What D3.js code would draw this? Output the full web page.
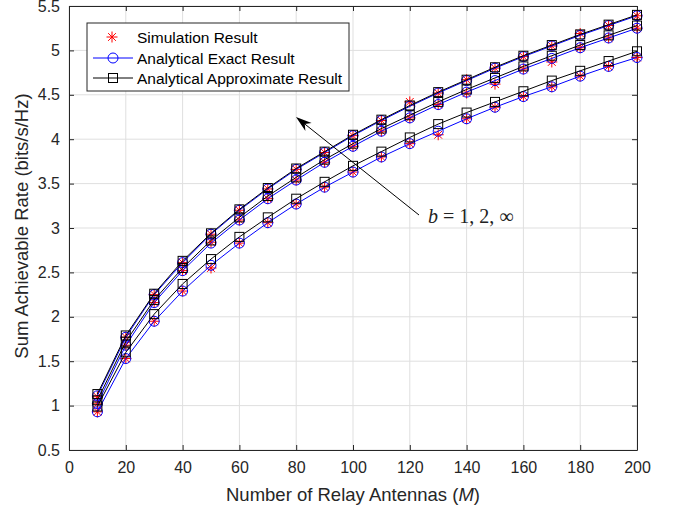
<!DOCTYPE html>
<html><head><meta charset="utf-8">
<script src="https://cdn.jsdelivr.net/npm/d3@7"></script>
<style>body{margin:0;background:#fff}svg{display:block}</style>
</head><body>
<script>
const M = [10,20,30,40,50,60,70,80,90,100,110,120,130,140,150,160,170,180,190,200];
const approxInf = [1.13,1.79,2.26,2.63,2.94,3.21,3.45,3.67,3.86,4.05,4.22,4.38,4.53,4.67,4.81,4.94,5.06,5.18,5.29,5.40];
const exactInf  = [1.11,1.77,2.25,2.61,2.93,3.20,3.44,3.66,3.85,4.04,4.21,4.37,4.52,4.66,4.80,4.93,5.05,5.17,5.28,5.39];
const approxB2  = [1.06,1.72,2.19,2.55,2.86,3.12,3.36,3.57,3.77,3.95,4.12,4.27,4.42,4.56,4.69,4.82,4.94,5.06,5.17,5.28];
const exactB2   = [1.02,1.68,2.16,2.52,2.83,3.09,3.33,3.54,3.74,3.92,4.09,4.24,4.39,4.53,4.66,4.79,4.91,5.03,5.14,5.25];
const approxB1  = [0.99,1.60,2.03,2.37,2.65,2.90,3.12,3.33,3.52,3.70,3.86,4.02,4.17,4.30,4.42,4.54,4.66,4.77,4.88,4.99];
const exactB1   = [0.93,1.53,1.95,2.29,2.58,2.83,3.06,3.27,3.46,3.63,3.80,3.95,4.09,4.23,4.36,4.48,4.59,4.71,4.82,4.92];
const simInf    = [1.10,1.77,2.25,2.61,2.93,3.20,3.44,3.66,3.85,4.04,4.21,4.42,4.52,4.67,4.80,4.93,5.05,5.19,5.28,5.39];
const simB2     = [1.02,1.68,2.16,2.52,2.84,3.09,3.33,3.54,3.74,3.92,4.09,4.24,4.39,4.52,4.62,4.79,4.87,5.03,5.14,5.25];
const simB1     = [0.93,1.53,1.95,2.29,2.55,2.83,3.06,3.27,3.46,3.63,3.80,3.95,4.05,4.23,4.36,4.48,4.59,4.71,4.82,4.92];
const xTicks = [0,20,40,60,80,100,120,140,160,180,200];
const yTicks = [0.5,1,1.5,2,2.5,3,3.5,4,4.5,5,5.5];
const legendLabels = ["Simulation Result","Analytical Exact Result","Analytical Approximate Result"];

const W=673,H=512, L=69,R=637,T=6,B=450;
const SANS="Liberation Sans, Arial, sans-serif";
const svg=d3.select("body").append("svg").attr("width",W).attr("height",H).style("font-family",SANS);
const x=d3.scaleLinear().domain([0,200]).range([L,R]);
const y=d3.scaleLinear().domain([0.5,5.5]).range([B,T]);
const axc="#262626";

// grid
const g=svg.append("g");
g.selectAll(".gx").data(xTicks).enter().append("line").attr("x1",d=>x(d)).attr("x2",d=>x(d)).attr("y1",T).attr("y2",B).attr("stroke","#dfdfdf").attr("stroke-width",1);
g.selectAll(".gy").data(yTicks).enter().append("line").attr("y1",d=>y(d)).attr("y2",d=>y(d)).attr("x1",L).attr("x2",R).attr("stroke","#dfdfdf").attr("stroke-width",1);

// axes
const tl=-5;
function styleAx(s){s.select(".domain").attr("stroke",axc);s.selectAll("line").attr("stroke",axc);s.selectAll("text").attr("fill",axc).style("font-size","16px").style("font-family",SANS);}
svg.append("g").attr("transform",`translate(0,${B})`).call(d3.axisBottom(x).tickValues(xTicks).tickSize(tl).tickSizeOuter(0).tickPadding(12)).call(styleAx);
svg.append("g").attr("transform",`translate(0,${T})`).call(d3.axisTop(x).tickValues(xTicks).tickSize(tl).tickSizeOuter(0).tickFormat("")).call(styleAx);
svg.append("g").attr("transform",`translate(${L},0)`).call(d3.axisLeft(y).tickValues(yTicks).tickSize(tl).tickSizeOuter(0).tickPadding(9).tickFormat(d=>String(d))).call(styleAx);
svg.append("g").attr("transform",`translate(${R},0)`).call(d3.axisRight(y).tickValues(yTicks).tickSize(tl).tickSizeOuter(0).tickFormat("")).call(styleAx);

// data
const plot=svg.append("g");
const line=d3.line().x((d,i)=>x(M[i])).y(d=>y(d));
function circles(arr){
  plot.append("path").datum(arr).attr("d",line).attr("fill","none").attr("stroke","#0000ff").attr("stroke-width",1);
  plot.selectAll(null).data(arr).enter().append("circle").attr("cx",(d,i)=>x(M[i])).attr("cy",d=>y(d)).attr("r",5).attr("fill","none").attr("stroke","#0000ff").attr("stroke-width",1);
}
function squares(arr){
  plot.append("path").datum(arr).attr("d",line).attr("fill","none").attr("stroke","#000").attr("stroke-width",1);
  plot.selectAll(null).data(arr).enter().append("rect").attr("x",(d,i)=>x(M[i])-4.5).attr("y",d=>y(d)-4.5).attr("width",9).attr("height",9).attr("fill","none").attr("stroke","#000").attr("stroke-width",1);
}
const starPath=(()=>{let p="";const r=5.5;for(let k=0;k<4;k++){const a=k*Math.PI/4;const dx=r*Math.cos(a),dy=r*Math.sin(a);p+=`M${-dx},${-dy}L${dx},${dy}`;}return p;})();
function stars(arr){
  plot.selectAll(null).data(arr).enter().append("path").attr("transform",(d,i)=>`translate(${x(M[i])},${y(d)})`).attr("d",starPath).attr("stroke","#ff0000").attr("stroke-width",1).attr("fill","none");
}
[simB1,simB2,simInf].forEach(stars);
[exactB1,exactB2,exactInf].forEach(circles);
[approxB1,approxB2,approxInf].forEach(squares);

// annotation arrow
const ax1=419,ay1=215,ax2=296,ay2=117;
svg.append("line").attr("x1",ax1).attr("y1",ay1).attr("x2",ax2+8).attr("y2",ay2+6.4).attr("stroke","#000").attr("stroke-width",1);
(function(){const ang=Math.atan2(ay2-ay1,ax2-ax1);const len=16,w=5;
 const bx=ax2-len*Math.cos(ang),by=ay2-len*Math.sin(ang);
 const px=-Math.sin(ang)*w,py=Math.cos(ang)*w;
 const ix=ax2-len*0.7*Math.cos(ang),iy=ay2-len*0.7*Math.sin(ang);
 svg.append("path").attr("d",`M${ax2},${ay2}L${bx+px},${by+py}L${ix},${iy}L${bx-px},${by-py}Z`).attr("fill","#000");})();
const ann=svg.append("text").attr("x",428).attr("y",223).style("font-family","Liberation Serif, DejaVu Serif, serif").style("font-size","20px").attr("fill","#222");
ann.append("tspan").style("font-style","italic").text("b");
ann.append("tspan").text(" = 1, 2, ∞");

// legend
const lg=svg.append("g");
lg.append("rect").attr("x",87).attr("y",23).attr("width",262).attr("height",68).attr("fill","#fff").attr("stroke",axc).attr("stroke-width",1);
const ly=[37,58,78];
lg.append("path").attr("transform",`translate(112,${ly[0]})`).attr("d",starPath).attr("stroke","#ff0000").attr("stroke-width",1);
lg.append("line").attr("x1",93).attr("x2",133).attr("y1",ly[1]).attr("y2",ly[1]).attr("stroke","#0000ff");
lg.append("circle").attr("cx",113).attr("cy",ly[1]).attr("r",5).attr("fill","none").attr("stroke","#0000ff");
lg.append("line").attr("x1",93).attr("x2",133).attr("y1",ly[2]).attr("y2",ly[2]).attr("stroke","#000");
lg.append("rect").attr("x",108.5).attr("y",ly[2]-4.5).attr("width",9).attr("height",9).attr("fill","none").attr("stroke","#000");
lg.selectAll(null).data(legendLabels).enter().append("text").attr("x",137).attr("y",(d,i)=>ly[i]+5.5).style("font-size","15.5px").attr("fill","#000").text(d=>d);

// axis labels
const xl=svg.append("text").attr("x",353).attr("y",501).attr("text-anchor","middle").style("font-size","18.5px").attr("fill",axc);
xl.append("tspan").text("Number of Relay Antennas (");
xl.append("tspan").style("font-style","italic").text("M");
xl.append("tspan").text(")");
svg.append("text").attr("transform","translate(28,226) rotate(-90)").attr("text-anchor","middle").style("font-size","18.5px").attr("fill",axc).text("Sum Achievable Rate (bits/s/Hz)");
</script>
</body></html>
